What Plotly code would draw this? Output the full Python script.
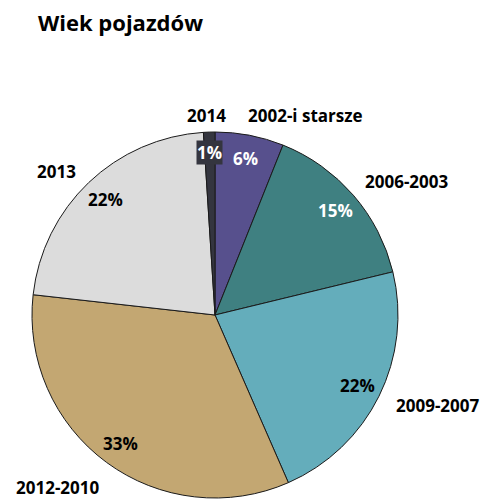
import math

import plotly.graph_objects as go

# Dane z wykresu: wiek pojazdów (udział w %).
kategorie = ["2002-i starsze", "2006-2003", "2009-2007", "2012-2010", "2013", "2014"]
udzialy = [6, 15, 22, 33, 22, 1]
kolory = ["#57508d", "#3f8081", "#64adbb", "#c3a772", "#dcdcdc", "#34353f"]
kolory_tekstu = ["#ffffff", "#ffffff", "#000000", "#000000", "#000000", "#ffffff"]

FONT = "Open Sans"
W, H = 497, 500
OFF = 8  # margines body w html

# Środek i promień koła (w pikselach okna).
CX, CY, R = 215, 315, 183


def px(x):
    return (x - OFF) / W


def py(y):
    return 1 - (y - OFF) / H


fig = go.Figure()

fig.add_trace(
    go.Pie(
        labels=kategorie,
        values=udzialy,
        sort=False,
        direction="clockwise",
        rotation=0,
        marker=dict(colors=kolory, line=dict(color="#1a1a1a", width=1)),
        textinfo="none",
        domain=dict(x=[px(CX - R), px(CX + R)], y=[py(CY + R), py(CY - R)]),
        showlegend=False,
        hoverinfo="label+percent",
    )
)

annotations = []

# Procenty wewnątrz wycinków, blisko krawędzi (jak w Excelu).
suma = sum(udzialy)
kumul = 0
for i, v in enumerate(udzialy):
    srodek = (kumul + v / 2) / suma * 2 * math.pi
    kumul += v
    k = 0.87 if v > 2 else 0.89
    x = CX + k * R * math.sin(srodek)
    y = CY - k * R * math.cos(srodek)
    annotations.append(
        dict(
            x=px(x),
            y=py(y),
            xref="paper",
            yref="paper",
            xanchor="center",
            yanchor="middle",
            text=f"<b>{round(100 * v / suma)}%</b>",
            showarrow=False,
            bgcolor=kolory[i] if v <= 2 else None,
            borderpad=0,
            font=dict(family=FONT, size=17, color=kolory_tekstu[i]),
        )
    )

# Etykiety kategorii na zewnątrz koła.
etykiety = [
    (kategorie[0], 305, 116),
    (kategorie[1], 407, 181),
    (kategorie[2], 438, 405),
    (kategorie[3], 58, 487),
    (kategorie[4], 56, 171),
    (kategorie[5], 206, 116),
]

for tekst, lx, ly in etykiety:
    annotations.append(
        dict(
            x=px(lx),
            y=py(ly),
            xref="paper",
            yref="paper",
            xanchor="center",
            yanchor="middle",
            text=f"<b>{tekst}</b>",
            showarrow=False,
            font=dict(family=FONT, size=17, color="#000000"),
        )
    )

annotations.append(
    dict(
        x=px(36),
        y=py(22),
        xref="paper",
        yref="paper",
        xanchor="left",
        yanchor="middle",
        text="<b>Wiek pojazdów</b>",
        showarrow=False,
        font=dict(family=FONT, size=22, color="#000000"),
    )
)

fig.update_layout(
    width=W,
    height=H,
    margin=dict(l=0, r=0, t=0, b=0),
    paper_bgcolor="#ffffff",
    plot_bgcolor="#ffffff",
    annotations=annotations,
)

fig.write_html("out.html")
